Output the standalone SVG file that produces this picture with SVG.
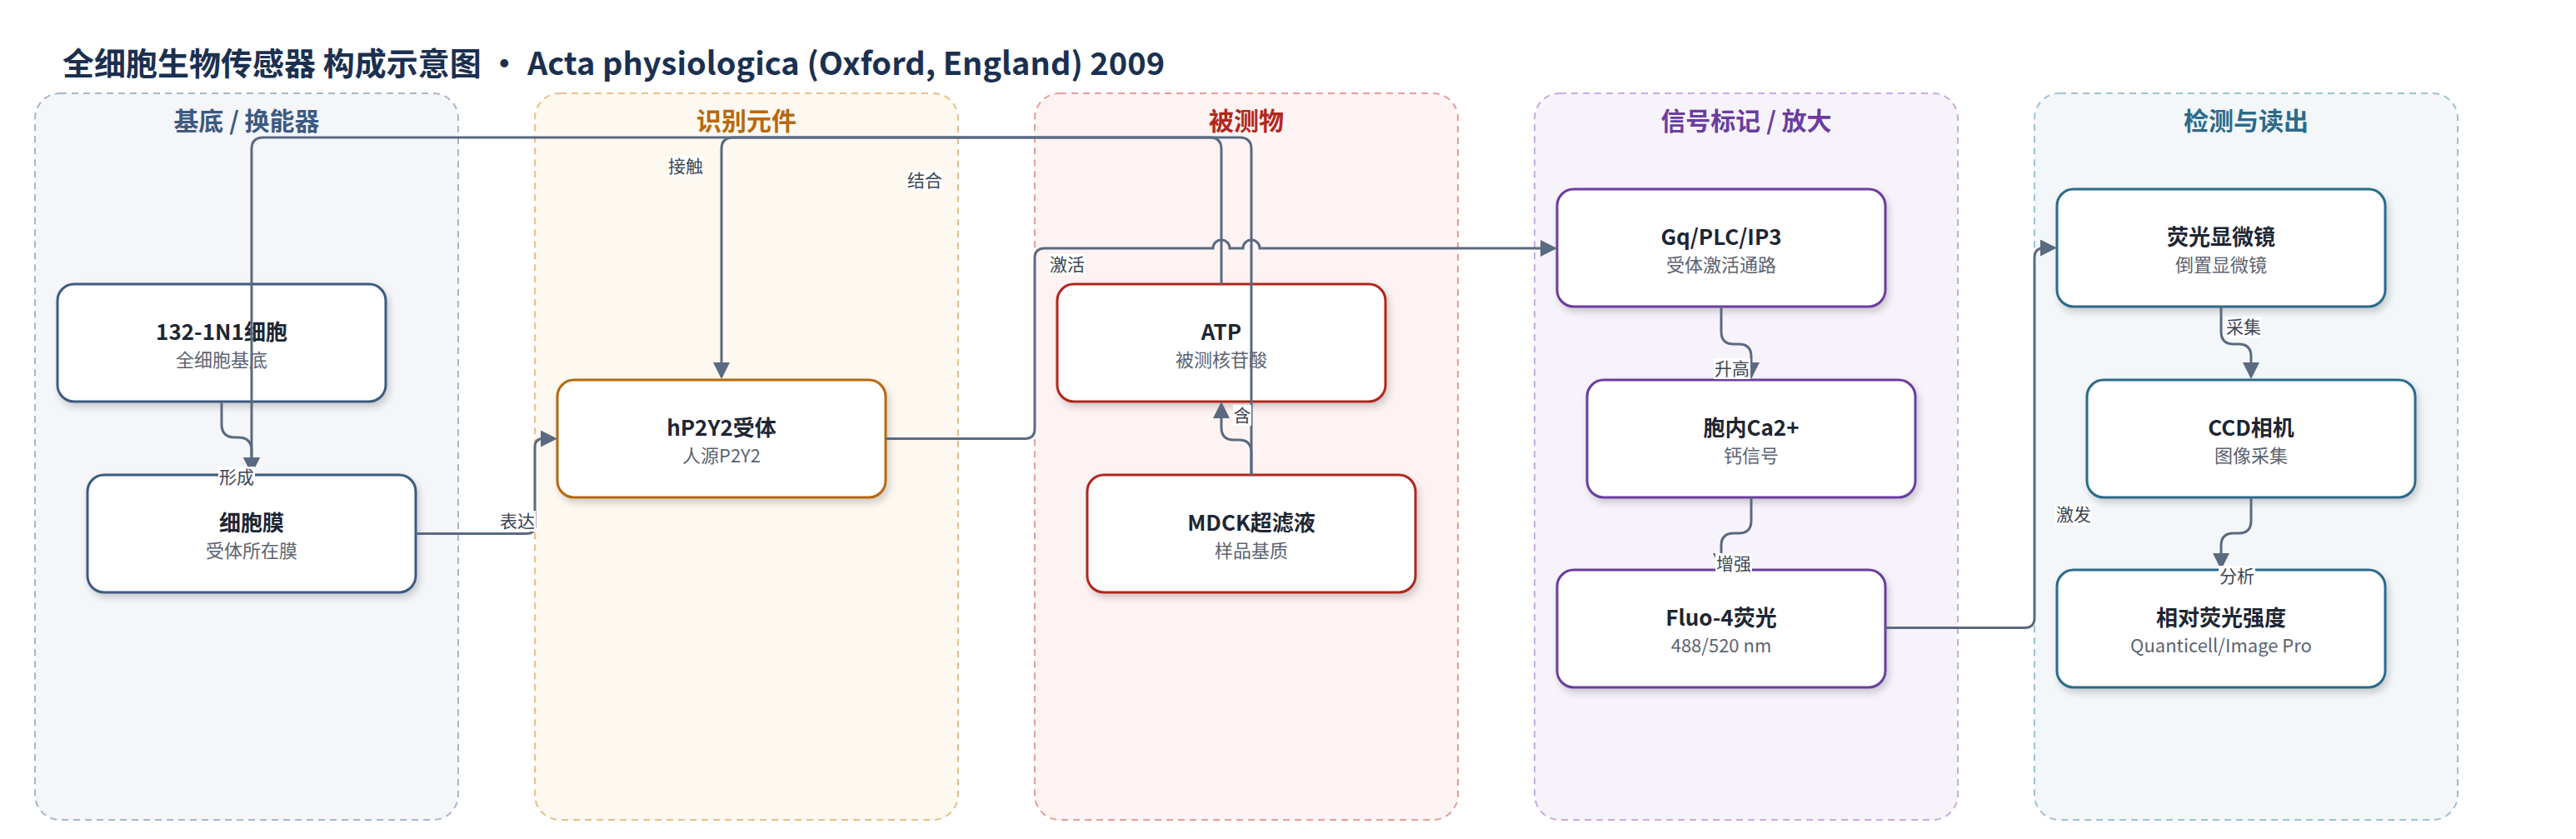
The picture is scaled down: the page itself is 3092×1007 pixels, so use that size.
<svg xmlns="http://www.w3.org/2000/svg" width="3092" height="1007" viewBox="0 0 3092 1007">
<style>
text{font-family:"Noto Sans CJK SC","Noto Sans",sans-serif}
.title{font-size:38px;font-weight:700;fill:#1b3050}
.ctitle{font-size:30px;font-weight:700;text-anchor:middle}
.cl{stroke-width:2;stroke-dasharray:8 6}
.node rect{fill:#fff;stroke-width:3;filter:url(#sh)}
.nt{font-size:26px;font-weight:700;fill:#1e2633;text-anchor:middle}
.ns{font-size:22px;fill:#5c6370;text-anchor:middle}
.e{fill:none;stroke:#5a6a80;stroke-width:3;marker-end:url(#arr)}
.e2{fill:none;stroke:#5a6a80;stroke-width:3}
.lb{fill:#fff}
.lt{font-size:21px;fill:#3c4654;text-anchor:middle}
.c1 rect{stroke:#3d5a80}.c2 rect{stroke:#b5690c}.c3 rect{stroke:#b0281e}.c4 rect{stroke:#6a3d9e}.c5 rect{stroke:#2c6a8a}
</style>
<defs>
<filter id="sh" x="-10%" y="-10%" width="125%" height="135%"><feDropShadow dx="3" dy="5" stdDeviation="4" flood-color="#000" flood-opacity="0.18"/></filter>
<marker id="arr" viewBox="0 0 20 20" refX="17" refY="10" markerWidth="20" markerHeight="20" markerUnits="userSpaceOnUse" orient="auto"><path d="M0,0 L20,10 L0,20 z" fill="#5a6a80"/></marker>
</defs>
<rect width="3092" height="1007" fill="#fff"/>
<text class="title" x="75" y="90">全细胞生物传感器 构成示意图 · Acta physiologica (Oxford, England) 2009</text>

<g id="clusters">
<g id="cluster-substrate"><rect class="cl" x="42" y="112" width="508" height="872" rx="30" fill="#f4f6fa" stroke="#a9b6c9"/><text class="ctitle" x="296" y="156" fill="#3d5a80">基底 / 换能器</text></g>
<g id="cluster-recognition"><rect class="cl" x="642" y="112" width="508" height="872" rx="30" fill="#fdf8f0" stroke="#e6c08a"/><text class="ctitle" x="896" y="156" fill="#b5690c">识别元件</text></g>
<g id="cluster-analyte"><rect class="cl" x="1242" y="112" width="508" height="872" rx="30" fill="#fdf3f2" stroke="#e59e98"/><text class="ctitle" x="1496" y="156" fill="#b0281e">被测物</text></g>
<g id="cluster-signal"><rect class="cl" x="1842" y="112" width="508" height="872" rx="30" fill="#f7f3fb" stroke="#c6acdf"/><text class="ctitle" x="2096" y="156" fill="#6a3d9e">信号标记 / 放大</text></g>
<g id="cluster-readout"><rect class="cl" x="2442" y="112" width="508" height="872" rx="30" fill="#f3f7f9" stroke="#9fc1d1"/><text class="ctitle" x="2696" y="156" fill="#2c6a8a">检测与读出</text></g>
</g>

<g id="nodes">
<g id="n-cell" class="node c1"><rect x="69" y="341" width="394" height="141" rx="20"/><text class="nt" x="266" y="408">132-1N1细胞</text><text class="ns" x="266" y="440">全细胞基底</text></g>
<g id="n-membrane" class="node c1"><rect x="105" y="570" width="394" height="141" rx="20"/><text class="nt" x="302" y="637">细胞膜</text><text class="ns" x="302" y="669">受体所在膜</text></g>
<g id="n-receptor" class="node c2"><rect x="669" y="456" width="394" height="141" rx="20"/><text class="nt" x="866" y="523">hP2Y2受体</text><text class="ns" x="866" y="555">人源P2Y2</text></g>
<g id="n-atp" class="node c3"><rect x="1269" y="341" width="394" height="141" rx="20"/><text class="nt" x="1466" y="408">ATP</text><text class="ns" x="1466" y="440">被测核苷酸</text></g>
<g id="n-mdck" class="node c3"><rect x="1305" y="570" width="394" height="141" rx="20"/><text class="nt" x="1502" y="637">MDCK超滤液</text><text class="ns" x="1502" y="669">样品基质</text></g>
<g id="n-gq" class="node c4"><rect x="1869" y="227" width="394" height="141" rx="20"/><text class="nt" x="2066" y="294">Gq/PLC/IP3</text><text class="ns" x="2066" y="326">受体激活通路</text></g>
<g id="n-ca" class="node c4"><rect x="1905" y="456" width="394" height="141" rx="20"/><text class="nt" x="2102" y="523">胞内Ca2+</text><text class="ns" x="2102" y="555">钙信号</text></g>
<g id="n-fluo" class="node c4"><rect x="1869" y="684" width="394" height="141" rx="20"/><text class="nt" x="2066" y="751">Fluo-4荧光</text><text class="ns" x="2066" y="783">488/520 nm</text></g>
<g id="n-microscope" class="node c5"><rect x="2469" y="227" width="394" height="141" rx="20"/><text class="nt" x="2666" y="294">荧光显微镜</text><text class="ns" x="2666" y="326">倒置显微镜</text></g>
<g id="n-ccd" class="node c5"><rect x="2505" y="456" width="394" height="141" rx="20"/><text class="nt" x="2702" y="523">CCD相机</text><text class="ns" x="2702" y="555">图像采集</text></g>
<g id="n-intensity" class="node c5"><rect x="2469" y="684" width="394" height="141" rx="20"/><text class="nt" x="2666" y="751">相对荧光强度</text><text class="ns" x="2666" y="783">Quanticell/Image Pro</text></g>
</g>

<g id="connectors">
<path class="e" d="M266 482 V509 Q266 525 282 525 H286 Q302 525 302 541 V566"/>
<path class="e" d="M1502 570 V179 Q1502 165 1488 165 H316 Q302 165 302 179 V566"/>
<path class="e" d="M1466 341 V179 Q1466 165 1452 165 H880 Q866 165 866 179 V452"/>
<path class="e" d="M499 640.5 H632 Q642 640.5 642 630.5 V536.5 Q642 526.5 652 526.5 H666"/>
<path class="e" d="M1063 526.5 H1230 Q1242 526.5 1242 514.5 V310 Q1242 298 1254 298 H1456 A10 10 0 0 1 1476 298 H1492 A10 10 0 0 1 1512 298 H1866"/>
<path class="e" d="M1502 570 V543 Q1502 528 1487 528 H1481 Q1466 528 1466 513 V485"/>
<path class="e" d="M2066 368 V398 Q2066 413 2081 413 H2087 Q2102 413 2102 428 V452"/>
<path class="e" d="M2102 597 V625 Q2102 640 2087 640 H2081 Q2066 640 2066 655 V681"/>
<path class="e" d="M2263 753.5 H2430 Q2442 753.5 2442 741.5 V309.5 Q2442 297.5 2454 297.5 H2466"/>
<path class="e" d="M2666 368 V398 Q2666 413 2681 413 H2687 Q2702 413 2702 428 V452"/>
<path class="e" d="M2702 597 V625 Q2702 640 2687 640 H2681 Q2666 640 2666 655 V681"/>
</g>

<g id="edge-labels">
<rect class="lb" x="262" y="560" width="44" height="25"/><text class="lt" x="284" y="580">形成</text>
<rect class="lb" x="801" y="187" width="44" height="25"/><text class="lt" x="823" y="207">接触</text>
<rect class="lb" x="1088" y="204" width="44" height="25"/><text class="lt" x="1110" y="224">结合</text>
<rect class="lb" x="599" y="613" width="44" height="25"/><text class="lt" x="621" y="633">表达</text>
<rect class="lb" x="1259" y="305" width="44" height="25"/><text class="lt" x="1281" y="325">激活</text>
<rect class="lb" x="1480" y="486" width="22" height="25"/><text class="lt" x="1491" y="506">含</text>
<rect class="lb" x="2057" y="430" width="44" height="25"/><text class="lt" x="2079" y="450">升高</text>
<rect class="lb" x="2059" y="664" width="44" height="25"/><text class="lt" x="2081" y="684">增强</text>
<rect class="lb" x="2467" y="605" width="44" height="25"/><text class="lt" x="2489" y="625">激发</text>
<rect class="lb" x="2671" y="380" width="44" height="25"/><text class="lt" x="2693" y="400">采集</text>
<rect class="lb" x="2663" y="679" width="44" height="25"/><text class="lt" x="2685" y="699">分析</text>
</g>
</svg>
